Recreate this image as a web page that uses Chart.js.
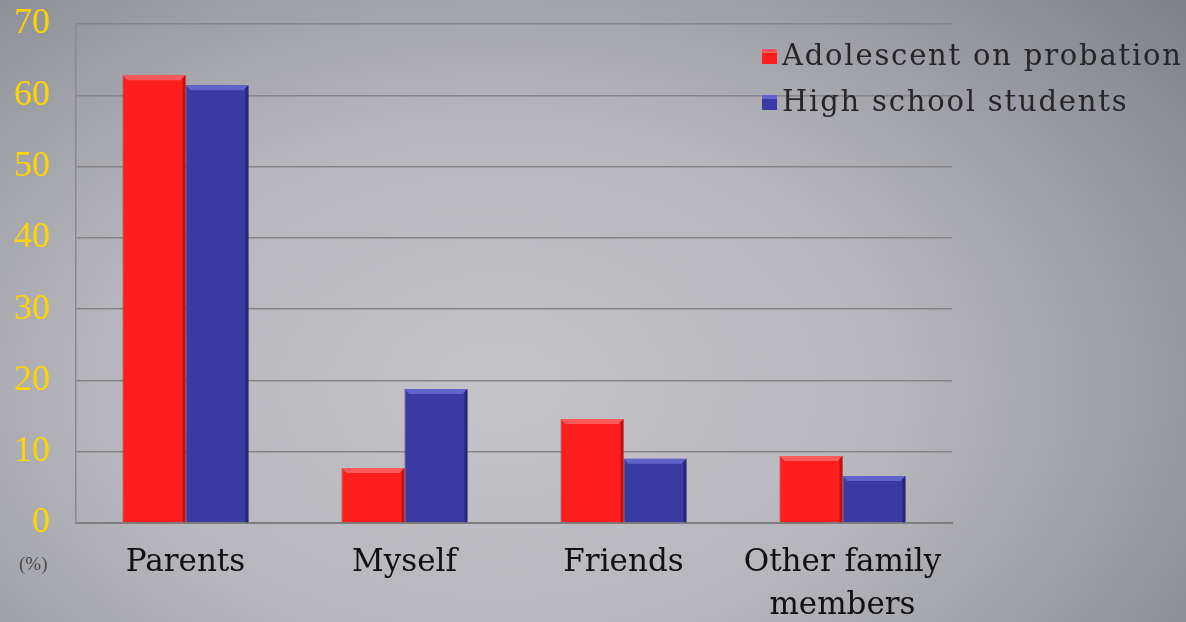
<!DOCTYPE html>
<html>
<head>
<meta charset="utf-8">
<script src="https://cdn.jsdelivr.net/npm/chart.js@4"></script>
<style>
  html, body { margin: 0; padding: 0; }
  body {
    width: 1186px; height: 622px; overflow: hidden; position: relative;
    background: radial-gradient(ellipse 75% 95% at 42% 62%, #c3c3c8 0%, #b6b6bc 45%, #9a9ba2 75%, #7f8189 100%);
  }
  #wrap { position: absolute; left: 0; top: 0; width: 1186px; height: 622px; }
  #pct { position: absolute; left: 19px; top: 553px; font: 19px "Liberation Serif", serif; color: #4a4a4a; }
</style>
</head>
<body>
<div id="wrap"><canvas id="chart" width="1186" height="622"></canvas></div>
<div id="pct">(%)</div>
<script>
var categories = ['Parents', 'Myself', 'Friends', ['Other family', 'members']];
var probation = [62.8, 7.7, 14.6, 9.4];
var highSchool = [61.4, 18.8, 9.0, 6.6];
var yTicks = [0, 10, 20, 30, 40, 50, 60, 70];

var serif = '"Liberation Serif", "DejaVu Serif", serif';
var wideSerif = '"DejaVu Serif", serif';

// light bevel on the top and sides of each bar
var bevelPlugin = {
    id: 'bevel',
    afterDatasetsDraw: function (chart) {
        var ctx = chart.ctx;
        chart.data.datasets.forEach(function (ds, di) {
            var meta = chart.getDatasetMeta(di);
            meta.data.forEach(function (bar) {
                var p = bar.getProps(['x', 'y', 'width', 'base'], true);
                var l = p.x - p.width / 2, r = p.x + p.width / 2, t = p.y, b = p.base;
                var d = 5;
                ctx.save();
                ctx.fillStyle = ds.lightColor;
                ctx.beginPath();
                ctx.moveTo(l, t); ctx.lineTo(r, t); ctx.lineTo(r - d, t + d); ctx.lineTo(l + d, t + d);
                ctx.closePath(); ctx.fill();
                ctx.fillStyle = ds.darkColor;
                ctx.beginPath();
                ctx.moveTo(r, t); ctx.lineTo(r, b); ctx.lineTo(r - 3, b); ctx.lineTo(r - 3, t + 3);
                ctx.closePath(); ctx.fill();
                ctx.restore();
            });
        });
    }
};

// legend drawn at the upper right
var legendPlugin = {
    id: 'sideLegend',
    afterDraw: function (chart) {
        var ctx = chart.ctx;
        ctx.save();
        ctx.font = '29px ' + wideSerif;
        ctx.textBaseline = 'middle';
        ctx.letterSpacing = '1.8px';
        chart.data.datasets.forEach(function (ds, i) {
            var y = 56 + i * 46;
            ctx.fillStyle = ds.backgroundColor;
            ctx.fillRect(762, y - 7, 15, 15);
            ctx.fillStyle = ds.lightColor;
            ctx.fillRect(762, y - 7, 15, 4);
            ctx.fillStyle = '#262626';
            ctx.fillText(ds.label, 782, y + 1);
        });
        ctx.restore();
    }
};

new Chart(document.getElementById('chart'), {
    type: 'bar',
    data: {
        labels: categories,
        datasets: [
            {
                label: 'Adolescent on probation',
                data: probation,
                backgroundColor: '#ff1e1e',
                borderColor: '#c81414',
                borderWidth: 1,
                lightColor: '#ff5a5a',
                darkColor: '#c41010'
            },
            {
                label: 'High school students',
                data: highSchool,
                backgroundColor: '#3a3aa2',
                borderColor: '#2a2a80',
                borderWidth: 1,
                lightColor: '#6262cc',
                darkColor: '#26267a'
            }
        ]
    },
    options: {
        responsive: false,
        animation: false,
        layout: { padding: { top: 24, right: 234, left: 0, bottom: 0 } },
        categoryPercentage: 0.575,
        barPercentage: 1,
        plugins: {
            legend: { display: false },
            tooltip: { enabled: false }
        },
        scales: {
            x: {
                grid: { display: false, drawTicks: false },
                border: { display: true, color: '#7e7e7e', width: 2 },
                ticks: {
                    color: '#111',
                    font: { family: wideSerif, size: 31, lineHeight: 1.4 },
                    padding: 18,
                    maxRotation: 0,
                    autoSkip: false
                },
                afterFit: function (scale) { scale.height = 99; }
            },
            y: {
                min: 0,
                max: 70,
                afterBuildTicks: function (scale) {
                    scale.ticks = yTicks.map(function (v) { return { value: v }; });
                },
                grid: { color: '#858585', lineWidth: 1.5, drawTicks: false },
                border: { display: true, color: '#8a8a8a', width: 1.5 },
                ticks: {
                    color: '#ffd400',
                    font: { family: serif, size: 36 },
                    padding: 26
                },
                afterFit: function (scale) {
                    scale.width = 76;
                    scale.paddingTop = 0;
                    scale.paddingBottom = 0;
                }
            }
        }
    },
    plugins: [bevelPlugin, legendPlugin]
});
</script>
</body>
</html>
